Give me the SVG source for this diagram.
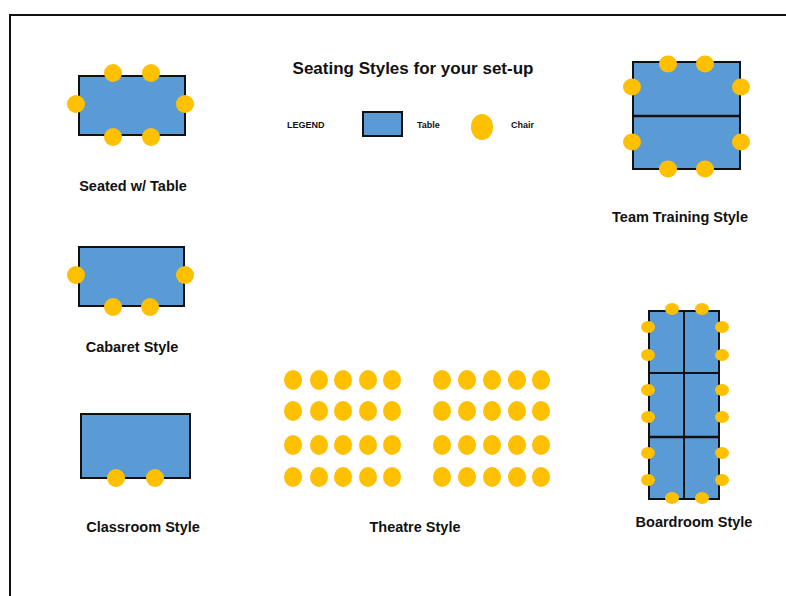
<svg xmlns="http://www.w3.org/2000/svg" width="786" height="596" viewBox="0 0 786 596">
<style>
.t{fill:#5B9BD5;stroke:#111;stroke-width:2}
.d{stroke:#111;stroke-width:2;fill:none}
.c{fill:#FFC000}
.lb{font-family:"Liberation Sans",Arial,sans-serif;font-weight:bold;font-size:14.5px;fill:#111;text-anchor:middle}
.sm{font-family:"Liberation Sans",Arial,sans-serif;font-weight:bold;font-size:9px;fill:#111}
</style>
<rect width="786" height="596" fill="#fff"/>
<path d="M10,596 V15 H786" fill="none" stroke="#111" stroke-width="2"/>
<g id="title"><text class="lb" x="413" y="74" style="font-size:17px">Seating Styles for your set-up</text></g>
<g id="legend">
<text class="sm" x="287" y="128">LEGEND</text>
<rect class="t" x="363" y="112" width="39" height="24"/>
<text class="sm" x="417" y="128">Table</text>
<ellipse class="c" cx="482" cy="127" rx="11" ry="13"/>
<text class="sm" x="511" y="128">Chair</text>
</g>
<g id="seated">
<rect class="t" x="79" y="76" width="106" height="59"/>
<circle class="c" cx="113" cy="73" r="9"/><circle class="c" cx="151" cy="73" r="9"/>
<circle class="c" cx="76" cy="104" r="9"/><circle class="c" cx="185" cy="104" r="9"/>
<circle class="c" cx="113" cy="137" r="9"/><circle class="c" cx="151" cy="137" r="9"/>
<text class="lb" x="133" y="191">Seated w/ Table</text>
</g>
<g id="cabaret">
<rect class="t" x="79" y="247" width="105" height="59"/>
<circle class="c" cx="76" cy="275" r="9"/><circle class="c" cx="185" cy="275" r="9"/>
<circle class="c" cx="113" cy="307" r="9"/><circle class="c" cx="150" cy="307" r="9"/>
<text class="lb" x="132" y="352">Cabaret Style</text>
</g>
<g id="classroom">
<rect class="t" x="81" y="414" width="109" height="64"/>
<circle class="c" cx="116" cy="478" r="9"/><circle class="c" cx="155" cy="478" r="9"/>
<text class="lb" x="143" y="532">Classroom Style</text>
</g>
<g id="team">
<rect class="t" x="633" y="62" width="107" height="107"/>
<line class="d" x1="633" y1="116" x2="740" y2="116" style="stroke-width:2.5"/>
<ellipse class="c" cx="668" cy="64" rx="9" ry="8.5"/><ellipse class="c" cx="705" cy="64" rx="9" ry="8.5"/>
<ellipse class="c" cx="632" cy="87" rx="9" ry="8.5"/><ellipse class="c" cx="741" cy="87" rx="9" ry="8.5"/>
<ellipse class="c" cx="632" cy="142" rx="9" ry="8.5"/><ellipse class="c" cx="741" cy="142" rx="9" ry="8.5"/>
<ellipse class="c" cx="668" cy="169" rx="9" ry="8.5"/><ellipse class="c" cx="705" cy="169" rx="9" ry="8.5"/>
<text class="lb" x="680" y="222">Team Training Style</text>
</g>
<g id="boardroom">
<rect class="t" x="649" y="311" width="70" height="188"/>
<line class="d" x1="684" y1="311" x2="684" y2="499"/>
<line class="d" x1="649" y1="373" x2="719" y2="373"/>
<line class="d" x1="649" y1="437" x2="719" y2="437" style="stroke-width:2.5"/>
<g class="c">
<ellipse cx="672" cy="309" rx="7" ry="6"/><ellipse cx="702" cy="309" rx="7" ry="6"/>
<ellipse cx="672" cy="498" rx="7" ry="6"/><ellipse cx="702" cy="498" rx="7" ry="6"/>
<ellipse cx="648" cy="327" rx="7" ry="6"/><ellipse cx="648" cy="355" rx="7" ry="6"/>
<ellipse cx="648" cy="390" rx="7" ry="6"/><ellipse cx="648" cy="417" rx="7" ry="6"/>
<ellipse cx="648" cy="453" rx="7" ry="6"/><ellipse cx="648" cy="480" rx="7" ry="6"/>
<ellipse cx="722" cy="327" rx="7" ry="6"/><ellipse cx="722" cy="355" rx="7" ry="6"/>
<ellipse cx="722" cy="390" rx="7" ry="6"/><ellipse cx="722" cy="417" rx="7" ry="6"/>
<ellipse cx="722" cy="453" rx="7" ry="6"/><ellipse cx="722" cy="480" rx="7" ry="6"/>
</g>
<text class="lb" x="694" y="527">Boardroom Style</text>
</g>
<g id="theatre">
<g class="c">
<ellipse cx="293" cy="380" rx="9" ry="10"/><ellipse cx="319" cy="380" rx="9" ry="10"/><ellipse cx="343" cy="380" rx="9" ry="10"/><ellipse cx="368" cy="380" rx="9" ry="10"/><ellipse cx="392" cy="380" rx="9" ry="10"/>
<ellipse cx="442" cy="380" rx="9" ry="10"/><ellipse cx="467" cy="380" rx="9" ry="10"/><ellipse cx="492" cy="380" rx="9" ry="10"/><ellipse cx="517" cy="380" rx="9" ry="10"/><ellipse cx="541" cy="380" rx="9" ry="10"/>
<ellipse cx="293" cy="411" rx="9" ry="10"/><ellipse cx="319" cy="411" rx="9" ry="10"/><ellipse cx="343" cy="411" rx="9" ry="10"/><ellipse cx="368" cy="411" rx="9" ry="10"/><ellipse cx="392" cy="411" rx="9" ry="10"/>
<ellipse cx="442" cy="411" rx="9" ry="10"/><ellipse cx="467" cy="411" rx="9" ry="10"/><ellipse cx="492" cy="411" rx="9" ry="10"/><ellipse cx="517" cy="411" rx="9" ry="10"/><ellipse cx="541" cy="411" rx="9" ry="10"/>
<ellipse cx="293" cy="445" rx="9" ry="10"/><ellipse cx="319" cy="445" rx="9" ry="10"/><ellipse cx="343" cy="445" rx="9" ry="10"/><ellipse cx="368" cy="445" rx="9" ry="10"/><ellipse cx="392" cy="445" rx="9" ry="10"/>
<ellipse cx="442" cy="445" rx="9" ry="10"/><ellipse cx="467" cy="445" rx="9" ry="10"/><ellipse cx="492" cy="445" rx="9" ry="10"/><ellipse cx="517" cy="445" rx="9" ry="10"/><ellipse cx="541" cy="445" rx="9" ry="10"/>
<ellipse cx="293" cy="477" rx="9" ry="10"/><ellipse cx="319" cy="477" rx="9" ry="10"/><ellipse cx="343" cy="477" rx="9" ry="10"/><ellipse cx="368" cy="477" rx="9" ry="10"/><ellipse cx="392" cy="477" rx="9" ry="10"/>
<ellipse cx="442" cy="477" rx="9" ry="10"/><ellipse cx="467" cy="477" rx="9" ry="10"/><ellipse cx="492" cy="477" rx="9" ry="10"/><ellipse cx="517" cy="477" rx="9" ry="10"/><ellipse cx="541" cy="477" rx="9" ry="10"/>
</g>
<text class="lb" x="415" y="532">Theatre Style</text>
</g>
</svg>
